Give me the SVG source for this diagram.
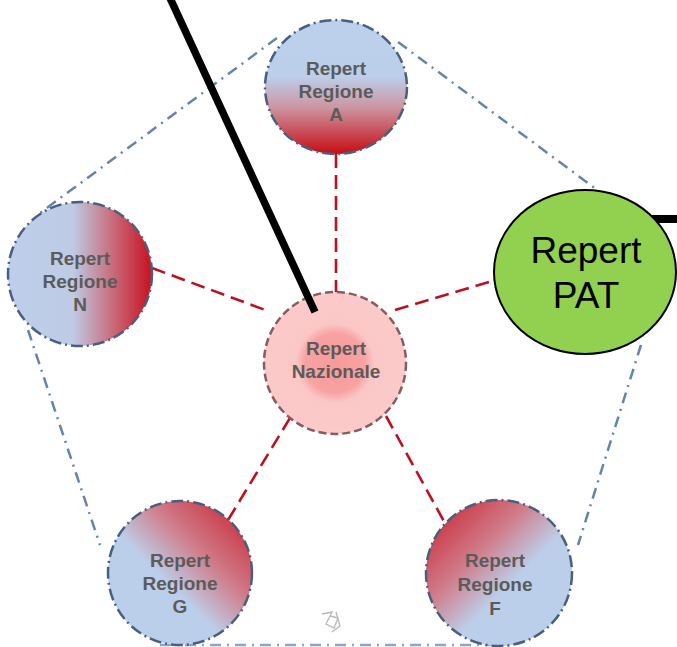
<svg xmlns="http://www.w3.org/2000/svg" width="677" height="647" viewBox="0 0 677 647">
<style>
.pent{fill:none;stroke:#6485aa;stroke-width:2.5;stroke-dasharray:11 6 2 6}
.red{fill:none;stroke:#c01020;stroke-width:2.6;stroke-dasharray:14 7}
.reg{stroke:#4a5f80;stroke-width:2.5;stroke-dasharray:12 4 2 4}
.nat{stroke:#8a5a62;stroke-width:2.5;stroke-dasharray:8 4}
.lbl{font-family:"Liberation Sans",Arial,sans-serif;font-weight:bold;font-size:19px;fill:#5b5b5b;text-anchor:middle}
.pat{font-family:"Liberation Sans",Arial,sans-serif;font-size:37px;fill:#000;text-anchor:middle}
</style>
<defs>
<linearGradient id="gA" x1="0" y1="0" x2="0" y2="1">
<stop offset="0" stop-color="#bcd0ec"/><stop offset="0.42" stop-color="#bccfea"/><stop offset="0.65" stop-color="#cc96a2"/><stop offset="1" stop-color="#c80c14"/>
</linearGradient>
<linearGradient id="gN" x1="0" y1="0" x2="1" y2="0">
<stop offset="0" stop-color="#bccfea"/><stop offset="0.45" stop-color="#bfcbe5"/><stop offset="0.7" stop-color="#c87484"/><stop offset="1" stop-color="#c81020"/>
</linearGradient>
<linearGradient id="gG" x1="0" y1="1" x2="1" y2="0">
<stop offset="0" stop-color="#bccfea"/><stop offset="0.42" stop-color="#bccfea"/><stop offset="0.65" stop-color="#d07a88"/><stop offset="1" stop-color="#c81a28"/>
</linearGradient>
<linearGradient id="gF" x1="1" y1="1" x2="0" y2="0">
<stop offset="0" stop-color="#bccfea"/><stop offset="0.42" stop-color="#bccfea"/><stop offset="0.65" stop-color="#d07a88"/><stop offset="1" stop-color="#c81a28"/>
</linearGradient>
<radialGradient id="gC" cx="0.5" cy="0.5" r="0.5">
<stop offset="0" stop-color="#f89a9a"/><stop offset="0.42" stop-color="#f8a2a2"/><stop offset="0.55" stop-color="#fbc6c6"/><stop offset="1" stop-color="#fccaca"/>
</radialGradient>
</defs>
<rect width="677" height="647" fill="#fff"/>
<g id="connectors">
<line class="pent" x1="277" y1="38" x2="40" y2="213"/>
<line class="pent" x1="398" y1="42" x2="600" y2="192"/>
<line class="pent" x1="641" y1="345" x2="578" y2="545"/>
<line class="pent" x1="28" y1="330" x2="100" y2="545"/>
<line class="pent" x1="160" y1="645" x2="495" y2="645" style="stroke:#8aa6c8"/>
<line class="red" x1="336" y1="154" x2="336" y2="292"/>
<line class="red" x1="152" y1="268" x2="268" y2="311"/>
<line class="red" x1="395" y1="310" x2="496" y2="280"/>
<line class="red" x1="290" y1="418" x2="225" y2="525"/>
<line class="red" x1="386" y1="416" x2="446" y2="525"/>
</g>
<g id="node-A">
<ellipse class="reg" cx="336" cy="87" rx="71" ry="67" fill="url(#gA)"/>
<text class="lbl" x="336" y="75">Repert</text>
<text class="lbl" x="336" y="98">Regione</text>
<text class="lbl" x="336" y="121">A</text>
</g>
<g id="node-N">
<circle class="reg" cx="80" cy="274" r="72" fill="url(#gN)"/>
<text class="lbl" x="80" y="265">Repert</text>
<text class="lbl" x="80" y="288">Regione</text>
<text class="lbl" x="80" y="311">N</text>
</g>
<g id="node-G">
<circle class="reg" cx="180" cy="573" r="72" fill="url(#gG)"/>
<text class="lbl" x="180" y="567">Repert</text>
<text class="lbl" x="180" y="590">Regione</text>
<text class="lbl" x="180" y="613">G</text>
</g>
<g id="node-F">
<circle class="reg" cx="499" cy="573" r="73" fill="url(#gF)"/>
<text class="lbl" x="495" y="567">Repert</text>
<text class="lbl" x="495" y="591">Regione</text>
<text class="lbl" x="495" y="615">F</text>
</g>
<g id="node-nazionale">
<circle class="nat" cx="335" cy="363" r="71" fill="url(#gC)"/>
<text class="lbl" x="336" y="355">Repert</text>
<text class="lbl" x="336" y="378">Nazionale</text>
</g>
<g id="pointer">
<line x1="170" y1="-2" x2="315" y2="312" stroke="#000" stroke-width="7.5"/>
<line x1="652" y1="219" x2="677" y2="219" stroke="#000" stroke-width="8"/>
</g>
<g id="node-PAT">
<ellipse cx="585" cy="272" rx="91" ry="82" fill="#92d050" stroke="#000" stroke-width="2"/>
<text class="pat" x="586" y="263">Repert</text>
<text class="pat" x="586" y="308">PAT</text>
</g>
<g id="logo" fill="none" stroke="#b8b8b8" stroke-width="1.3">
<path d="M322 614 L332 612 L326 624 L334 628 L338 618 L330 616 M336 612 L340 626 L332 632"/>
</g>
</svg>
